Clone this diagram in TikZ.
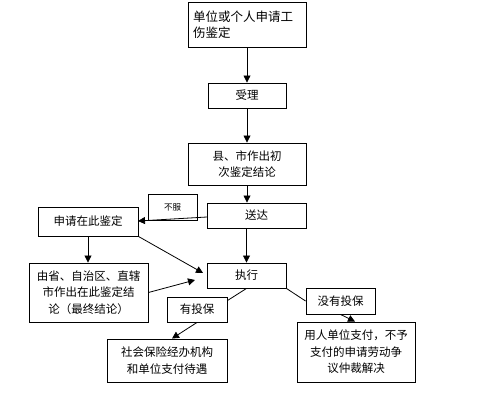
\documentclass[tikz,border=0pt]{standalone}
\usepackage{fontspec}
\setmainfont{Noto Sans CJK SC}
\usetikzlibrary{arrows.meta}
\begin{document}
\begin{tikzpicture}[x=1pt,y=-1pt,
  box/.style={draw=black,line width=0.9pt,inner sep=2pt,font=\fontsize{11.5}{16.5}\selectfont,align=center},
  conn/.style={line width=0.8pt},
  arr/.style={line width=0.8pt,-{Triangle[length=7pt,width=7pt]}}]
\useasboundingbox[fill=white] (0,0) rectangle (500,419);
\node[box,minimum width=118pt,minimum height=45pt,align=left,text width=108pt,font=\fontsize{12.5}{16.5}\selectfont] (b1) at (247,24.5) {单位或个人申请工\\伤鉴定};
\node[box,minimum width=78pt,minimum height=25pt] (b2) at (247,95.5) {受理};
\node[box,minimum width=118pt,minimum height=42pt] (b3) at (247,164) {县、市作出初\\次鉴定结论};
\node[box,minimum width=99pt,minimum height=25pt] (b4) at (256.5,215.5) {送达};
\node[box,minimum width=49pt,minimum height=26pt,font=\fontsize{8.5}{10}\selectfont] (b6) at (172.5,207) {不服};
\node[box,minimum width=100pt,minimum height=29pt] (b7) at (88,221.5) {申请在此鉴定};
\node[box,minimum width=79pt,minimum height=25pt] (b5) at (246.5,275.5) {执行};
\node[box,minimum width=119pt,minimum height=59pt] (b8) at (88.5,292.5) {由省、自治区、直辖\\市作出在此鉴定结\\论（最终结论）};
\node[box,minimum width=60pt,minimum height=25pt] (b9) at (197,309.5) {有投保};
\node[box,minimum width=120pt,minimum height=43pt] (b10) at (167,360.5) {社会保险经办机构\\和单位支付待遇};
\node[box,minimum width=69pt,minimum height=26pt] (b11) at (340.5,301) {没有投保};
\node[box,minimum width=118pt,minimum height=60pt] (b12) at (356,352) {用人单位支付，不予\\支付的申请劳动争\\议仲裁解决};
\coordinate (e1) at (195,280);
\coordinate (e2) at (203,273);
\coordinate (s1) at (207,217);
\coordinate (e3) at (138,221);
\draw[arr] (b1.south) -- (b2.north);
\draw[arr] (b2.south) -- (b3.north);
\draw[arr] (b3.south) -- (b3.south |- b4.north);
\draw[arr] (b5.north |- b4.south) -- (b5.north);
\draw[arr] (s1) -- (e3);
\draw[arr] (b7.south) -- (b7.south |- b8.north);
\draw[arr] (b7.south east) -- (e2);
\draw[arr] (b8.east) -- (e1);
\draw[conn] (b5.south) -- ([yshift=-4pt]b9.north east);
\draw[arr] (b9.south) -- ([xshift=5pt]b10.north);
\draw[conn] (b5.south east) -- (b11.west);
\draw[arr] (b11.south) -- ([xshift=-1pt]b12.north);
\end{tikzpicture}
\end{document}
